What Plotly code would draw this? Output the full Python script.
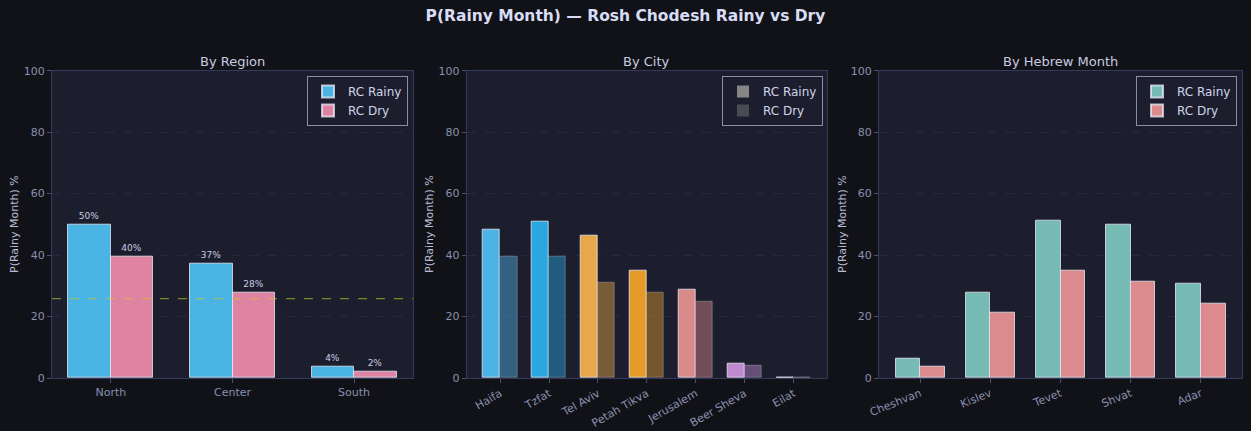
import plotly.graph_objects as go
from plotly.subplots import make_subplots

W, H = 1251, 431

# --- data ---
regions = ["North", "Center", "South"]
region_rainy = [49.8, 37.1, 3.6]
region_dry = [39.6, 27.9, 1.9]
region_labels_rainy = ["50%", "37%", "4%"]
region_labels_dry = ["40%", "28%", "2%"]
baseline = 25.8

cities = ["Haifa", "Tzfat", "Tel Aviv", "Petah Tikva", "Jerusalem", "Beer Sheva", "Eilat"]
city_rainy = [48.4, 51.0, 46.2, 34.8, 28.8, 4.5, 0.2]
city_dry = [39.6, 39.6, 30.9, 27.6, 24.7, 4.1, 0.0]
city_colors = ["#4db3e6", "#29a8e0", "#e8a84a", "#e69a28", "#d98a8a", "#c08ad0", "#8a8fb0"]

months = ["Cheshvan", "Kislev", "Tevet", "Shvat", "Adar"]
month_rainy = [6.2, 27.8, 51.1, 50.0, 30.7]
month_dry = [3.7, 21.1, 34.8, 31.2, 24.1]

# --- style ---
PAPER = "#111217"
PLOT = "#1c1e2e"
TICK = "#8a90b0"
TEXT = "#c8cce0"
FONT = "DejaVu Sans"
EDGE = "rgba(235,238,250,0.75)"
BW = 0.35


def rgba(hex_color, a):
    h = hex_color.lstrip("#")
    r, g, b = int(h[0:2], 16), int(h[2:4], 16), int(h[4:6], 16)
    return f"rgba({r},{g},{b},{a})"


fig = make_subplots(rows=1, cols=3)

# By Region
fig.add_trace(go.Bar(x=regions, y=region_rainy, width=BW, offset=-BW, name="RC Rainy",
                     marker=dict(color="#4ab4e4", line=dict(color=EDGE, width=1)),
                     text=region_labels_rainy, textposition="outside",
                     textfont=dict(size=9, color=TEXT), cliponaxis=False,
                     legend="legend"), row=1, col=1)
fig.add_trace(go.Bar(x=regions, y=region_dry, width=BW, offset=0, name="RC Dry",
                     marker=dict(color="#de84a2", line=dict(color=EDGE, width=1)),
                     text=region_labels_dry, textposition="outside",
                     textfont=dict(size=9, color=TEXT), cliponaxis=False,
                     legend="legend"), row=1, col=1)
fig.add_hline(y=baseline, line=dict(color="rgba(200,200,30,0.6)", width=1.3, dash="dash"),
              row=1, col=1)

# By City
fig.add_trace(go.Bar(x=cities, y=city_rainy, width=BW, offset=-BW, showlegend=False,
                     marker=dict(color=city_colors, line=dict(color=EDGE, width=1))),
              row=1, col=2)
fig.add_trace(go.Bar(x=cities, y=city_dry, width=BW, offset=0, showlegend=False,
                     marker=dict(color=[rgba(c, 0.45) for c in city_colors],
                                 line=dict(color="rgba(200,200,210,0.35)", width=1))),
              row=1, col=2)
for nm, col in [("RC Rainy", "#858585"), ("RC Dry", "#4a4b52")]:
    fig.add_trace(go.Bar(x=[cities[0]], y=[None], name=nm,
                         marker=dict(color=col, line=dict(width=0)),
                         legend="legend2", showlegend=True), row=1, col=2)

# By Hebrew Month
fig.add_trace(go.Bar(x=months, y=month_rainy, width=BW, offset=-BW, name="RC Rainy",
                     marker=dict(color="#76bcb4", line=dict(color=EDGE, width=1)),
                     legend="legend3"), row=1, col=3)
fig.add_trace(go.Bar(x=months, y=month_dry, width=BW, offset=0, name="RC Dry",
                     marker=dict(color="#db8b8d", line=dict(color=EDGE, width=1)),
                     legend="legend3"), row=1, col=3)

# layout / axes
x_domains = [(52 / W, 413 / W), (466.7 / W, 827 / W), (879 / W, 1242 / W)]
y_domain = ((H - 378) / H, (H - 70.7) / H)
n_cats = [len(regions), len(cities), len(months)]
angles = [0, -30, -22]
subtitles = ["By Region", "By City", "By Hebrew Month"]
ytitle_x = [14, 429, 842]

for i in range(3):
    pad = 0.05 * (n_cats[i] - 1 + 2 * BW)
    fig.update_xaxes(domain=x_domains[i], range=[-BW - pad, n_cats[i] - 1 + BW + pad],
                     automargin=False,
                     showline=True, mirror=True, linecolor="#343a5c", linewidth=1,
                     ticks="outside", ticklen=4, tickcolor="#4a5070",
                     tickfont=dict(family=FONT, size=11, color=TICK),
                     tickangle=angles[i], showgrid=False, zeroline=False,
                     row=1, col=i + 1)
    fig.update_yaxes(domain=y_domain, range=[0, 100], dtick=20, automargin=False,
                     showline=True, mirror=True, linecolor="#343a5c", linewidth=1,
                     ticks="outside", ticklen=4, tickcolor="#4a5070",
                     tickfont=dict(family=FONT, size=11, color=TICK),
                     showgrid=True, gridcolor="rgba(90,96,130,0.18)", griddash="dash",
                     gridwidth=1, zeroline=False,
                     row=1, col=i + 1)
    fig.add_annotation(text=subtitles[i], x=(x_domains[i][0] + x_domains[i][1]) / 2,
                       y=(H - 61) / H, xref="paper", yref="paper", showarrow=False,
                       xanchor="center", yanchor="middle",
                       font=dict(family=FONT, size=13, color=TEXT))
    fig.add_annotation(text="P(Rainy Month) %", textangle=-90,
                       x=ytitle_x[i] / W, y=(H - 224) / H, xref="paper", yref="paper",
                       showarrow=False, xanchor="center", yanchor="middle",
                       font=dict(family=FONT, size=11, color="#b8bcd4"))

legend_style = dict(bgcolor=PLOT, bordercolor="#8a8fa6", borderwidth=1,
                    font=dict(family=FONT, size=12, color="#d0d4e8"),
                    xanchor="right", yanchor="top", y=(H - 76) / H,
                    itemsizing="constant", tracegroupgap=0, itemwidth=30)

fig.update_layout(
    width=W, height=H,
    margin=dict(l=0, r=0, t=0, b=0, autoexpand=False),
    paper_bgcolor=PAPER, plot_bgcolor=PLOT,
    barmode="overlay", bargap=0,
    font=dict(family=FONT, color=TEXT),
    title=dict(text="<b>P(Rainy Month) — Rosh Chodesh Rainy vs Dry</b>",
               x=0.5, xanchor="center", y=1 - 16 / H, yanchor="middle",
               font=dict(family=FONT, size=15.5, color="#d8dcf5")),
    legend=dict(x=408 / W, **legend_style),
    legend2=dict(x=823 / W, **legend_style),
    legend3=dict(x=1237 / W, **legend_style),
)

fig.write_html("out.html", config={"displayModeBar": False},
               post_script="document.body.style.margin='0';"
                           "document.body.style.overflow='hidden';")
